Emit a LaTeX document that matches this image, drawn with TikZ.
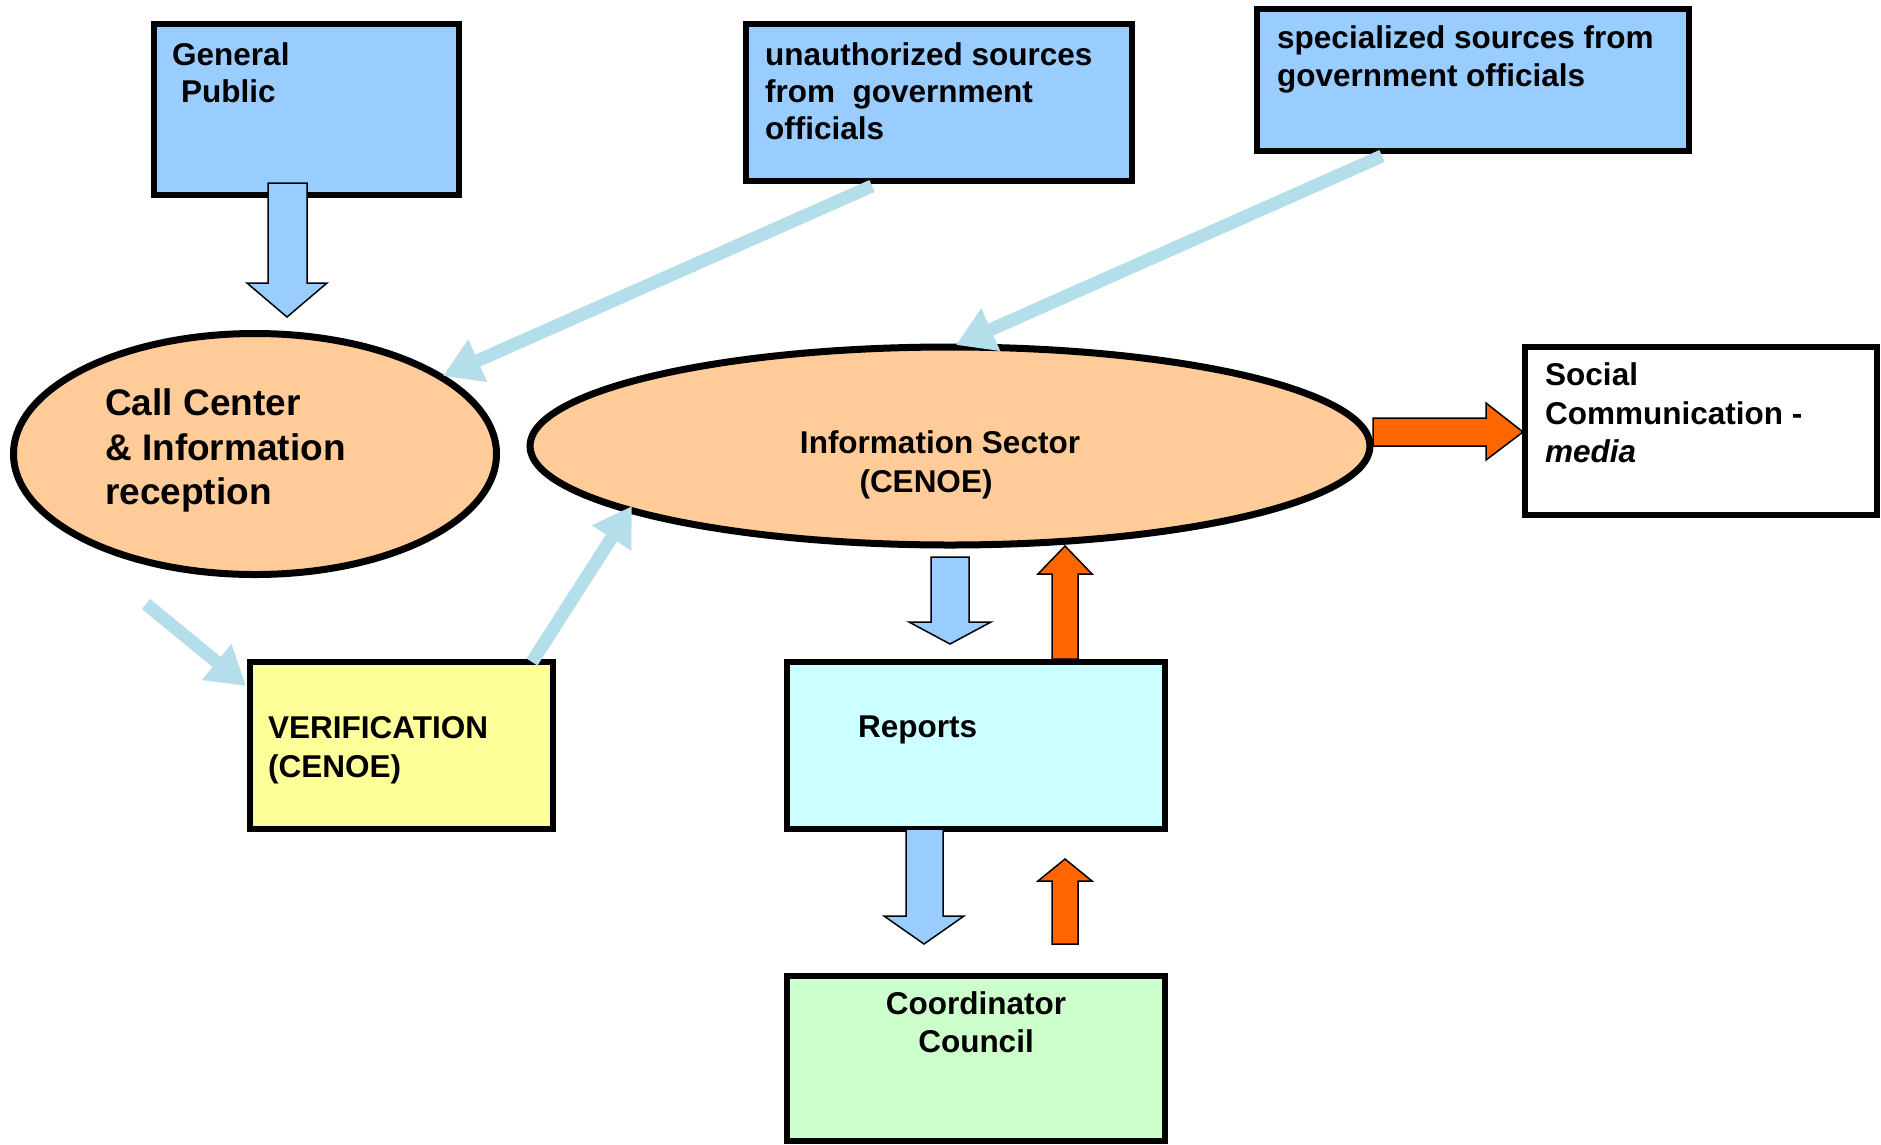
\documentclass[tikz,border=0pt]{standalone}
\usepackage{fontspec}
\setmainfont{Liberation Sans}
\usetikzlibrary{arrows.meta,shapes.geometric,calc}
\definecolor{boxblue}{HTML}{99CCFF}
\definecolor{ellorange}{HTML}{FFCC99}
\definecolor{verifyellow}{HTML}{FFFF99}
\definecolor{repcyan}{HTML}{CCFFFF}
\definecolor{coordgreen}{HTML}{CCFFCC}
\definecolor{flowred}{HTML}{FF6600}
\definecolor{thinblue}{RGB}{180,222,234}
\tikzset{
  boxnode/.style={draw=black, line width=6pt, rectangle, inner sep=0pt},
  ellnode/.style={draw=black, line width=7pt, ellipse, inner sep=0pt, fill=ellorange},
  txt/.style={font=\bfseries\fontsize{31.5}{37.5}\selectfont, inner sep=0pt, align=left},
  bigtxt/.style={font=\bfseries\fontsize{37}{45}\selectfont, inner sep=0pt, align=left},
  thinarrow/.style={draw=thinblue, line width=13pt, -{Triangle[length=38pt,width=44pt]}},
  blockblue/.style={fill=boxblue, draw=black, line width=1.5pt, line join=miter},
  blockred/.style={fill=flowred, draw=black, line width=1.5pt, line join=miter}
}
\begin{document}
\begin{tikzpicture}[x=1pt,y=-1pt]
\useasboundingbox (0,0) rectangle (1881,1144);
% ellipses
\node[ellnode, minimum width=483pt, minimum height=241pt] (call) at (255,454) {};
\node[ellnode, minimum width=840pt, minimum height=198pt] (info) at (950,446) {};
% box nodes
\node[boxnode, fill=boxblue, minimum width=305pt, minimum height=171pt] (gp) at (306.5,109.5) {};
\node[boxnode, fill=boxblue, minimum width=386pt, minimum height=157pt] (unauth) at (939,102.5) {};
\node[boxnode, fill=boxblue, minimum width=432pt, minimum height=142pt] (spec) at (1473,80) {};
\node[boxnode, fill=white, minimum width=352pt, minimum height=168pt] (social) at (1701,431) {};
\node[boxnode, fill=verifyellow, minimum width=303pt, minimum height=167pt] (verif) at (401.5,745.5) {};
\node[boxnode, fill=repcyan, minimum width=378pt, minimum height=167pt] (reports) at (976,745.5) {};
\node[boxnode, fill=coordgreen, minimum width=378pt, minimum height=165pt] (coord) at (976,1058.5) {};
% thin light-blue arrows
\coordinate (uStart) at (872,186);
\coordinate (uTip) at (443,376);
\coordinate (sStart) at (1382,156);
\coordinate (sTip) at (956,345);
\coordinate (cStart) at (146,604);
\coordinate (cTip) at (246,686);
\coordinate (vStart) at (532,662);
\coordinate (vTip) at (632,506);
\draw[thinarrow] (uStart) -- (uTip);
\draw[thinarrow] (sStart) -- (sTip);
\draw[thinarrow] (cStart) -- (cTip);
\draw[thinarrow] (vStart) -- (vTip);
% block arrows
\draw[blockblue] (268,183) -- (307,183) -- (307,283) -- (327,283) -- (287,317) -- (247,283) -- (268,283) -- cycle;
\draw[blockblue] (931,557) -- (969,557) -- (969,622) -- (991,622) -- (950,644) -- (909,622) -- (931,622) -- cycle;
\draw[blockblue] (906,829) -- (943,829) -- (943,916) -- (964,916) -- (924,944) -- (884,916) -- (906,916) -- cycle;
\draw[blockred] (1052,659) -- (1052,574) -- (1038,574) -- (1065,546) -- (1092,574) -- (1078,574) -- (1078,659) -- cycle;
\draw[blockred] (1052,944) -- (1052,881) -- (1038,881) -- (1065,859) -- (1092,881) -- (1078,881) -- (1078,944) -- cycle;
\draw[blockred] (1373,418) -- (1486,418) -- (1486,403) -- (1523,432) -- (1486,460) -- (1486,446) -- (1373,446) -- cycle;
% texts
\node[txt, anchor=base west] (gpt1) at (172,65) {General};
\node[txt, anchor=base west] (gpt2) at (181,102) {Public};
\node[txt, anchor=base west] (ut1) at (765,65) {unauthorized sources};
\node[txt, anchor=base west] (ut2) at (765,102) {from\ \ government};
\node[txt, anchor=base west] (ut3) at (765,139) {officials};
\node[txt, anchor=base west] (st1) at (1277,48) {specialized sources from};
\node[txt, anchor=base west] (st2) at (1277,86) {government officials};
\node[bigtxt, anchor=base west] (ct1) at (105,415) {Call Center};
\node[bigtxt, anchor=base west] (ct2) at (105,460) {\& Information};
\node[bigtxt, anchor=base west] (ct3) at (105,504) {reception};
\node[txt, anchor=base] (it1) at (940,453) {Information Sector};
\node[txt, anchor=base] (it2) at (926,492) {(CENOE)};
\node[txt, anchor=base west] (sc1) at (1545,385) {Social};
\node[txt, anchor=base west] (sc2) at (1545,424) {Communication -};
\node[txt, anchor=base west] (sc3) at (1545,462) {\itshape media};
\node[txt, anchor=base west] (vt1) at (268,738) {VERIFICATION};
\node[txt, anchor=base west] (vt2) at (268,777) {(CENOE)};
\node[txt, anchor=base west] (rt) at (858,737) {Reports};
\node[txt, anchor=base] (cc1) at (976,1014) {Coordinator};
\node[txt, anchor=base] (cc2) at (976,1052) {Council};
\end{tikzpicture}
\end{document}
